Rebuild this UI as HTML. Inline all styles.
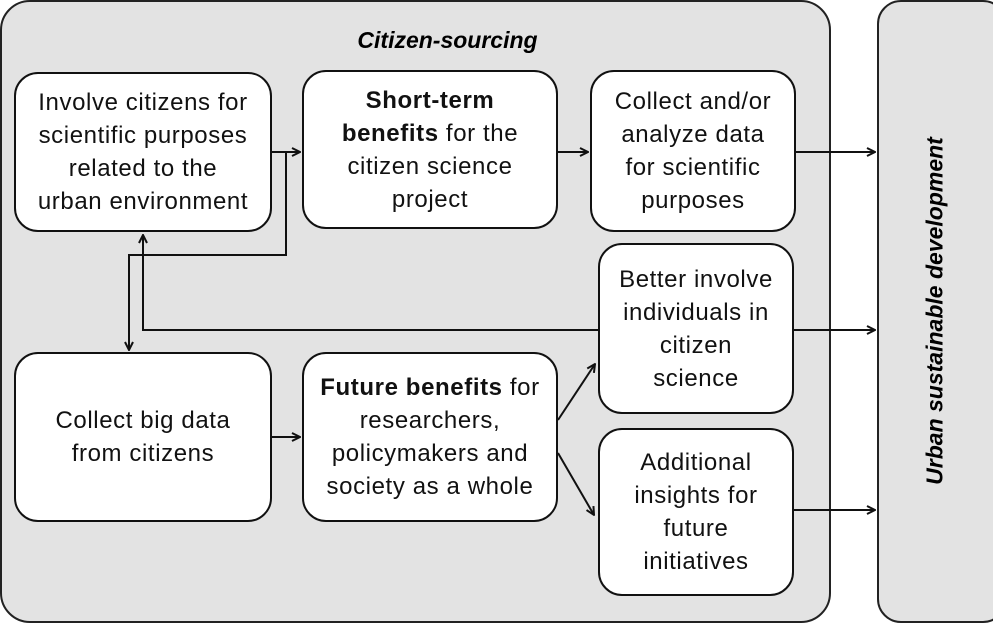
<!DOCTYPE html>
<html><head><style>
body{margin:0;width:993px;height:624px;background:#fff;position:relative;overflow:hidden;font-family:"Liberation Sans",sans-serif;}
.frame{position:absolute;background:#e3e3e3;border:2px solid #222;box-sizing:border-box;border-radius:30px;}
.box{position:absolute;background:#fff;border:2px solid #111;box-sizing:border-box;border-radius:24px;display:flex;align-items:center;justify-content:center;text-align:center;font-size:24px;letter-spacing:0.6px;line-height:33px;color:#111;white-space:nowrap;}
</style></head><body>
<div class="frame" style="left:0;top:0;width:831px;height:623px"></div>
<div class="frame" style="left:877px;top:0;width:130px;height:623px;border-radius:24px"></div>
<div style="position:absolute;left:320px;top:27px;width:255px;text-align:center;font-size:23px;font-weight:bold;font-style:italic">Citizen-sourcing</div>
<div style="position:absolute;left:935px;top:311px;transform:translate(-50%,-50%) rotate(-90deg);white-space:nowrap;font-size:23px;font-weight:bold;font-style:italic">Urban sustainable development</div>
<div class="box" style="left:14px;top:72px;width:258px;height:160px">Involve citizens for<br>scientific purposes<br>related to the<br>urban environment</div>
<div class="box" style="left:302px;top:70px;width:256px;height:159px"><span><b>Short-term<br>benefits</b> for the<br>citizen science<br>project</span></div>
<div class="box" style="left:590px;top:70px;width:206px;height:162px">Collect and/or<br>analyze data<br>for scientific<br>purposes</div>
<div class="box" style="left:598px;top:243px;width:196px;height:171px">Better involve<br>individuals in<br>citizen<br>science</div>
<div class="box" style="left:14px;top:352px;width:258px;height:170px">Collect big data<br>from citizens</div>
<div class="box" style="left:302px;top:352px;width:256px;height:170px"><span><b>Future benefits</b> for<br>researchers,<br>policymakers and<br>society as a whole</span></div>
<div class="box" style="left:598px;top:428px;width:196px;height:168px">Additional<br>insights for<br>future<br>initiatives</div>
<svg width="993" height="624" style="position:absolute;left:0;top:0">
<defs><marker id="a" markerWidth="10" markerHeight="10" refX="9" refY="5" orient="auto" markerUnits="userSpaceOnUse"><path d="M1,1 L9,5 L1,9" fill="none" stroke="#111" stroke-width="2"/></marker></defs>
<g stroke="#111" stroke-width="2" fill="none">
<line x1="272" y1="152" x2="300" y2="152" marker-end="url(#a)"/>
<polyline points="286,152 286,255 129,255 129,350" marker-end="url(#a)"/>
<polyline points="598,330 143,330 143,235" marker-end="url(#a)"/>
<line x1="558" y1="152" x2="588" y2="152" marker-end="url(#a)"/>
<line x1="796" y1="152" x2="875" y2="152" marker-end="url(#a)"/>
<line x1="794" y1="330" x2="875" y2="330" marker-end="url(#a)"/>
<line x1="794" y1="510" x2="875" y2="510" marker-end="url(#a)"/>
<line x1="272" y1="437" x2="300" y2="437" marker-end="url(#a)"/>
<line x1="558" y1="420" x2="595" y2="364" marker-end="url(#a)"/>
<line x1="558" y1="453" x2="594" y2="515" marker-end="url(#a)"/>
</g></svg>
</body></html>
